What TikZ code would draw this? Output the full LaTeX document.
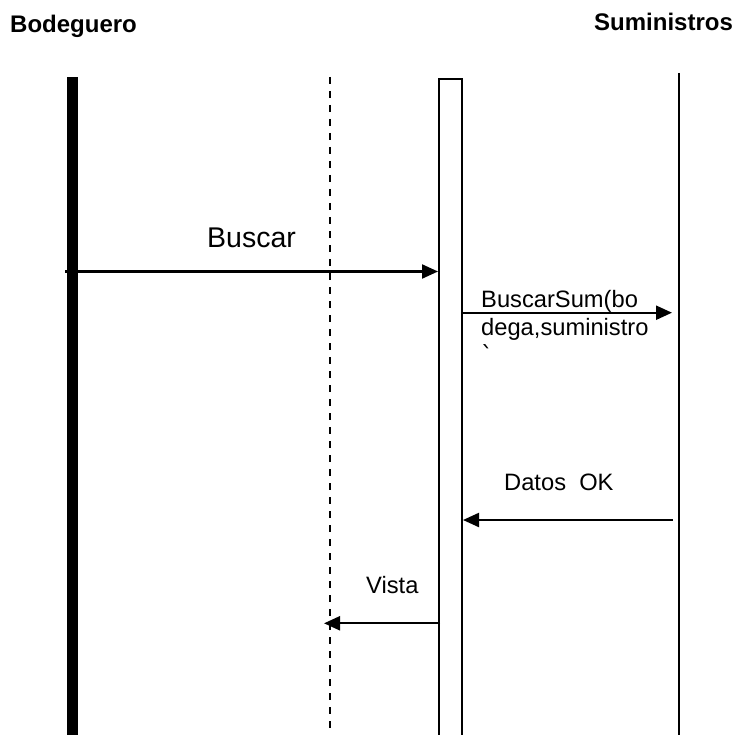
\documentclass[tikz,border=0pt]{standalone}
\usepackage{fontspec}
\setmainfont{Liberation Sans}
\newfontfamily\dvfont{DejaVu Sans}
\usetikzlibrary{arrows.meta}
\tikzset{
  life/.style={line width=1.9pt},
  dashlife/.style={line width=1.6pt, dash pattern=on 7pt off 7pt},
  msg/.style={line width=2.2pt, -{Triangle[length=16pt,width=14pt]}},
  title/.style={inner sep=0pt, anchor=base west, font=\fontsize{24}{28}\selectfont\bfseries},
  lab/.style={inner sep=0pt, anchor=base west, font=\fontsize{23.7}{28}\selectfont},
}
\begin{document}
\begin{tikzpicture}[x=1pt,y=-1pt]
\useasboundingbox (0,0) rectangle (735,735);
% titles
\node[title] (tB) at (10,33) {Bodeguero};
\node[title] (tS) at (594,31) {Suministros};
% lifelines
\fill (67,77) rectangle (78,736);
\draw[dashlife] (330,77) -- (330,736);
\draw[life] (439,737) -- (439,79) -- (462,79) -- (462,737);
\draw[life] (679,73) -- (679,737);
% message end points
\coordinate (m1s) at (65,271.5);
\coordinate (m1e) at (438,271.5);
\coordinate (m2s) at (462,312.7);
\coordinate (m2e) at (672,312.7);
\coordinate (m3s) at (672.5,520);
\coordinate (m3e) at (463,520);
\coordinate (m4s) at (440,623.3);
\coordinate (m4e) at (324,623.3);
% messages
\draw[msg] (m1s) -- (m1e);
\draw[msg] (m2s) -- (m2e);
\draw[msg] (m3s) -- (m3e);
\draw[msg] (m4s) -- (m4e);
% labels
\node[lab, font=\fontsize{28.5}{32}\selectfont] (l1) at (207,247) {Buscar};
\node[lab] (l2a) at (481,307) {BuscarSum(bo};
\node[lab] (l2b) at (481,335) {dega,suministro};
\node[lab] (l2c) at (481,363) {\dvfont ˋ};
\node[lab] (l3) at (504,490) {Datos~~OK};
\node[lab] (l4) at (366,593) {Vista};
\end{tikzpicture}
\end{document}
